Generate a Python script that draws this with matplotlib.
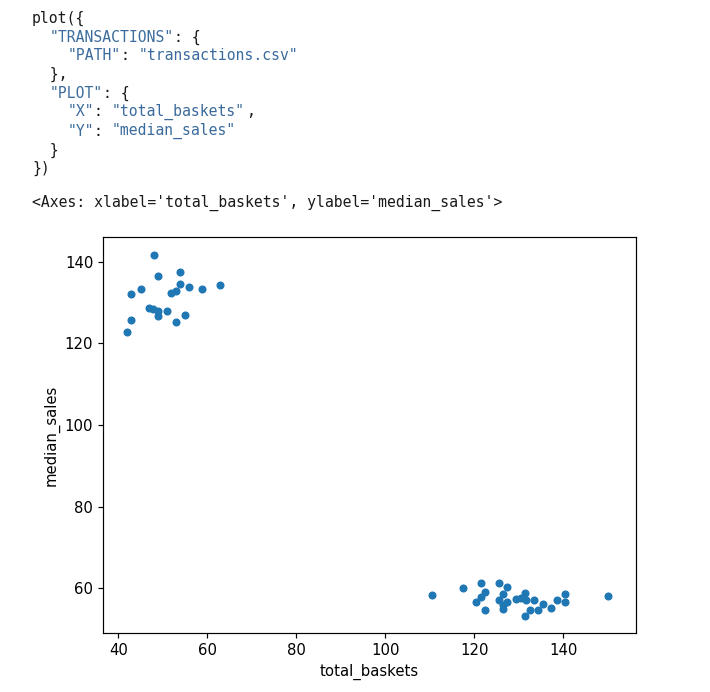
import matplotlib
matplotlib.use("Agg")
import matplotlib.pyplot as plt

# Data
total_baskets = [
    47.9, 48.8, 53.9, 53.9, 55.8, 58.9, 62.8, 45.0, 42.9, 51.8,
    53.0, 46.9, 47.8, 48.8, 48.8, 51.0, 54.9, 53.0, 42.9, 41.9,
    110.6, 117.6, 121.5, 122.5, 121.5, 120.4, 122.5, 125.6, 127.5, 126.4,
    125.6, 127.3, 126.4, 126.4, 129.4, 130.5, 131.5, 131.7, 133.5, 134.4,
    132.6, 131.5, 135.5, 137.3, 138.6, 140.4, 140.5, 150.2,
]
median_sales = [
    141.6, 136.6, 137.5, 134.5, 133.8, 133.4, 134.4, 133.4, 132.2, 132.4,
    132.8, 128.8, 128.4, 128.0, 126.7, 128.0, 126.9, 125.2, 125.7, 122.8,
    58.3, 60.1, 61.2, 59.1, 57.9, 56.5, 54.6, 61.2, 60.2, 58.5,
    57.2, 56.5, 55.8, 54.8, 57.4, 57.7, 58.8, 57.2, 57.2, 54.6,
    54.6, 53.2, 56.1, 55.2, 57.1, 58.5, 56.5, 58.0,
]
x_ticks = [40, 60, 80, 100, 120, 140]
y_ticks = [60, 80, 100, 120, 140]

W, H = 710, 692
S = 1.07
fig = plt.figure(figsize=(W / 100, H / 100), dpi=100)
fig.patch.set_facecolor("white")

ax = fig.add_axes([103.3 / W, 1 - 633 / H, (635.5 - 103.3) / W, (633 - 237) / H])
ax.scatter(total_baskets, median_sales, s=20 * S * S, color="#1f77b4")
ax.set_xlim(36.6, 156.3)
ax.set_ylim(49.0, 146.1)
ax.set_xticks(x_ticks)
ax.set_yticks(y_ticks)
ax.tick_params(labelsize=10 * S, length=3.5 * S, width=0.8 * S)
for sp in ax.spines.values():
    sp.set_linewidth(0.8 * S)
ax.set_xlabel("total_baskets", fontsize=10 * S)
ax.set_ylabel("median_sales", fontsize=10 * S)

# Code cell text
BLUE = "#3b6b9c"
BLACK = "#1a1a1a"
fs = 10.6
char_w = 8.9
x0 = 32
lines = [
    (18, [("plot({", BLACK)]),
    (37, [("  ", BLACK), ('"TRANSACTIONS"', BLUE), (": {", BLACK)]),
    (56, [("    ", BLACK), ('"PATH"', BLUE), (": ", BLACK), ('"transactions.csv"', BLUE)]),
    (74, [("  },", BLACK)]),
    (93, [("  ", BLACK), ('"PLOT"', BLUE), (": {", BLACK)]),
    (112, [("    ", BLACK), ('"X"', BLUE), (": ", BLACK), ('"total_baskets"', BLUE), (",", BLACK)]),
    (131, [("    ", BLACK), ('"Y"', BLUE), (": ", BLACK), ('"median_sales"', BLUE)]),
    (150, [("  }", BLACK)]),
    (168, [("})", BLACK)]),
    (203, [("<Axes: xlabel='total_baskets', ylabel='median_sales'>", BLACK)]),
]
for y, segs in lines:
    n = 0
    for txt, col in segs:
        if txt.strip():
            fig.text((x0 + n * char_w) / W, 1 - y / H, txt, color=col,
                     fontsize=fs, family="DejaVu Sans Mono", va="center", ha="left")
        n += len(txt)

fig.savefig("out.png", dpi=100)
